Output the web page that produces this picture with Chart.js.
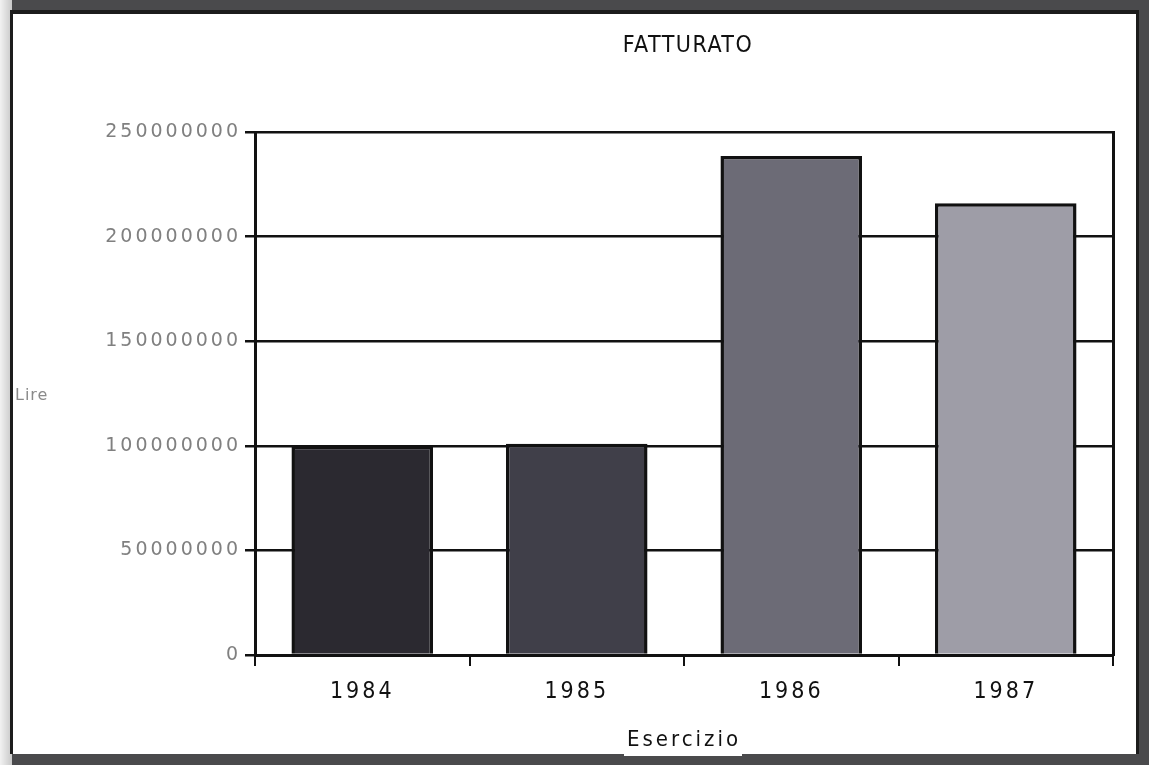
<!DOCTYPE html>
<html>
<head>
<meta charset="utf-8">
<script src="https://cdn.jsdelivr.net/npm/chart.js@4.4.1/dist/chart.umd.min.js"></script>
<style>
  html, body { margin: 0; padding: 0; }
  body { width: 1149px; height: 765px; background: #4a4a4c; position: relative; overflow: hidden; }
  #leftStrip { position: absolute; left: 0; top: 0; width: 12px; height: 765px; background: linear-gradient(to right, #f2f2f2, #c8c8c8); }
  #sheet { position: absolute; left: 10px; top: 10px; width: 1123px; height: 740px; background: #fff;
           border-top: 4px solid #1c1c1c; border-left: 3px solid #1c1c1c; border-right: 3px solid #1c1c1c; }
  #labelPatch { position: absolute; left: 624px; top: 720px; width: 118px; height: 36px; background: #fff; }
  #wrap { position: absolute; left: 0; top: 0; width: 1149px; height: 765px; }
</style>
</head>
<body>
<div id="leftStrip"></div>
<div id="sheet"></div>
<div id="labelPatch"></div>
<div id="wrap"><canvas id="barChart" width="1149" height="765"></canvas></div>
<script>
// dati del grafico
const years = ['1984', '1985', '1986', '1987'];
const revenue = [100000000, 101000000, 238500000, 216000000];
const barColors = ['#2b2930', '#403f49', '#6c6b76', '#9e9da7'];
const yTicks = [0, 50000000, 100000000, 150000000, 200000000, 250000000];

const chartTitle = 'FATTURATO';
const yTitle = 'Lire';
const xTitle = 'Esercizio';

// spaziatura lettere: larga per l'asse y, stretta per l'asse x (disegnato dopo le barre)
const textPlugin = {
  id: 'textPlugin',
  beforeDraw(chart) {
    chart.ctx.letterSpacing = '3px';
  },
  afterDatasetsDraw(chart) {
    chart.ctx.letterSpacing = '1px';
  },
  afterDraw(chart) {
    const ctx = chart.ctx;
    const area = chart.chartArea;
    ctx.save();
    ctx.letterSpacing = '1.5px';
    ctx.fillStyle = '#111';
    ctx.font = '23px "DejaVu Sans Condensed"';
    ctx.textAlign = 'center';
    ctx.textBaseline = 'middle';
    ctx.fillText(chartTitle, (area.left + area.right) / 2 + 4, 46);

    ctx.letterSpacing = '1px';
    ctx.fillStyle = '#8a8a8a';
    ctx.font = '16px "DejaVu Sans"';
    ctx.textAlign = 'left';
    ctx.fillText(yTitle, 15, 396);
    ctx.restore();
    ctx.letterSpacing = '0px';
  }
};

const data = {
  labels: years,
  datasets: [{
    label: chartTitle,
    data: revenue,
    backgroundColor: barColors,
    borderColor: '#111',
    borderWidth: 3.5,
    borderSkipped: 'bottom',
    categoryPercentage: 1,
    barPercentage: 0.66
  }]
};

const config = {
  type: 'bar',
  data: data,
  plugins: [textPlugin],
  options: {
    responsive: false,
    animation: false,
    layout: { padding: { top: 132, left: 0, right: 0, bottom: 0 } },
    plugins: {
      legend: { display: false },
      title: { display: false },
      tooltip: { enabled: false }
    },
    scales: {
      x: {
        z: 1,
        offset: true,
        grid: {
          offset: true,
          drawOnChartArea: false,
          drawTicks: true,
          tickLength: 11,
          color: '#111',
          lineWidth: 2
        },
        border: { display: true, color: '#111', width: 3 },
        ticks: {
          color: '#111',
          padding: 12,
          font: { family: 'DejaVu Sans Condensed', size: 23 }
        },
        title: {
          display: true,
          text: xTitle,
          color: '#111',
          padding: { top: 0, bottom: 12 },
          font: { family: 'DejaVu Sans Condensed', size: 22 }
        },
        afterFit(scale) { scale.height = 110; }
      },
      y: {
        min: 0,
        max: 250000000,
        afterBuildTicks(scale) {
          scale.ticks = yTicks.map(v => ({ value: v }));
        },
        grid: {
          color: '#111',
          lineWidth: 2.5,
          drawTicks: true,
          tickLength: 10
        },
        border: { display: true, color: '#111', width: 3 },
        ticks: {
          color: '#808080',
          padding: 4,
          font: { family: 'DejaVu Sans', size: 19 },
          callback: v => String(v)
        },
        afterFit(scale) { scale.width = 255; }
      },
      y2: {
        position: 'right',
        min: 0,
        max: 250000000,
        grid: { drawOnChartArea: false, drawTicks: false },
        border: { display: true, color: '#111', width: 3 },
        ticks: { display: false },
        afterFit(scale) { scale.width = 36; }
      }
    }
  }
};

const barChart = new Chart(
  document.getElementById('barChart'),
  config
);
</script>
</body>
</html>
